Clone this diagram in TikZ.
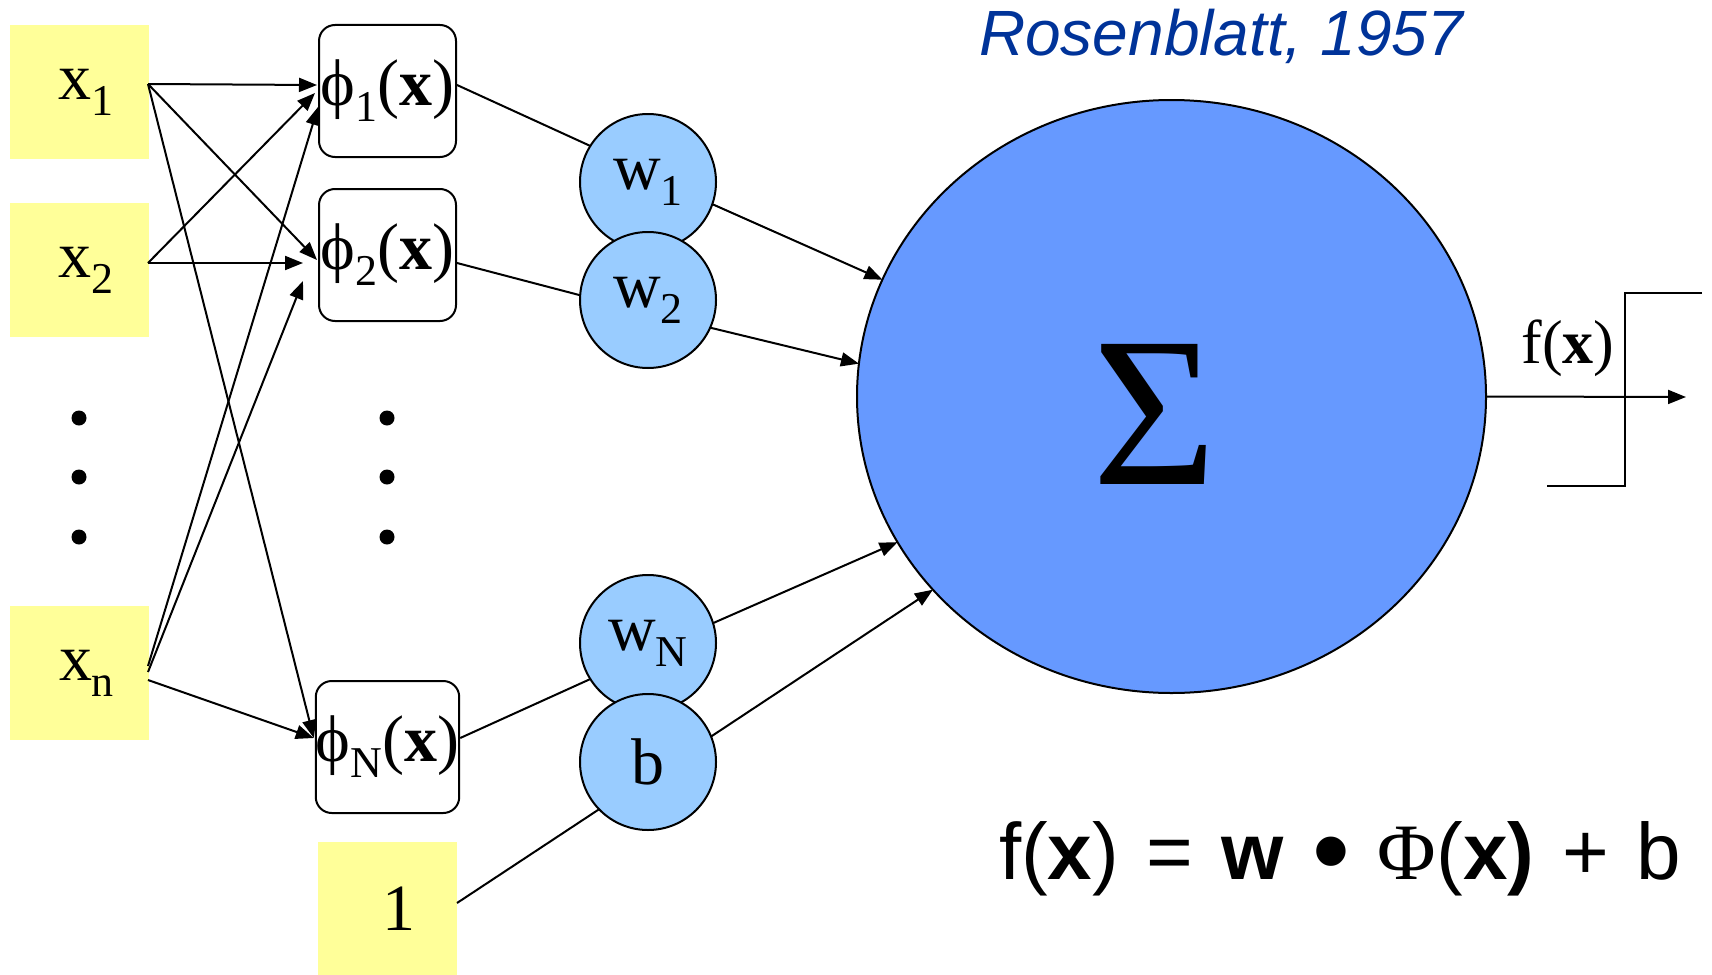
\documentclass[tikz,border=0pt]{standalone}
\usepackage{fontspec}
\setmainfont{Liberation Serif}
\newfontfamily\arialfont{Liberation Sans}
\usetikzlibrary{arrows.meta,shapes.geometric,calc}
\definecolor{inyellow}{RGB}{255,255,153}
\definecolor{wblue}{RGB}{153,204,255}
\definecolor{sigblue}{RGB}{102,153,255}
\definecolor{rosenblue}{RGB}{0,51,153}
\newcommand{\mysub}[1]{\raisebox{-0.24em}{\fontsize{44}{44}\selectfont #1}}
\newcommand{\fsp}{\hspace{28pt}}
\begin{document}
\begin{tikzpicture}[x=1pt,y=-1pt,
  every node/.style={inner sep=0pt, outer sep=0pt},
  inbox/.style={fill=inyellow, minimum width=139pt, minimum height=134pt, font=\fontsize{66}{70}\selectfont},
  phibox/.style={draw, line width=2pt, rounded corners=16pt, minimum width=137pt, minimum height=132pt, font=\fontsize{66}{70}\selectfont},
  wcirc/.style={circle, draw, line width=2pt, fill=wblue, minimum size=136pt, font=\fontsize{66}{70}\selectfont},
  dotnode/.style={circle, fill=black, minimum size=15pt},
  conn/.style={line width=2pt},
  arr/.style={line width=2pt, -{Triangle[length=18pt,width=14pt]}},
]
\useasboundingbox (0,0) rectangle (1712,974);

% input boxes
\node[inbox] (x1) at (79.5,92) {\hspace*{12pt}x\mysub{1}};
\node[inbox] (x2) at (79.5,270) {\hspace*{12pt}x\mysub{2}};
\node[inbox] (xn) at (79.5,673) {\hspace*{14pt}x\mysub{n}};
\node[inbox] (one) at (387.5,909) {\hspace*{22pt}1};

% phi boxes
\node[phibox] (phi1) at (387.5,91) {ϕ\mysub{1}(\textbf{x})};
\node[phibox] (phi2) at (387.5,255) {ϕ\mysub{2}(\textbf{x})};
\node[phibox] (phiN) at (387.5,747) {ϕ\mysub{N}(\textbf{x})};

% dots
\node[dotnode] (d1) at (79,418) {};
\node[dotnode] (d2) at (79,477) {};
\node[dotnode] (d3) at (79,537) {};
\node[dotnode] (e1) at (387,418) {};
\node[dotnode] (e2) at (387,477) {};
\node[dotnode] (e3) at (387,537) {};

% input connectors
\draw[arr] ($(x1.east)+(-1,-8)$) -- ($(phi1.west)+(-2,-6)$);
\draw[arr] ($(x1.east)+(-1,-8)$) -- ($(phi2.west)+(-2,5)$);
\draw[arr] ($(x1.east)+(-1,-8)$) -- ($(phiN.west)+(-2,-9)$);
\draw[arr] ($(x2.east)+(-1,-7)$) -- ($(phi1.west)+(-4,2)$);
\draw[arr] ($(x2.east)+(-1,-7)$) -- ($(phi2.west)+(-16,8)$);
\draw[arr] ($(xn.east)+(-1,-7)$) -- ($(phi1.west)+(-1,16)$);
\draw[arr] ($(xn.east)+(-1,-1)$) -- ($(phi2.west)+(-16,26)$);
\draw[arr] ($(xn.east)+(-1,7)$) -- ($(phiN.west)+(-2,-9)$);

% weight circles
\node[wcirc] (w1) at (648,182) {w\mysub{1}};
\node[wcirc] (w2) at (648,300) {w\mysub{2}};
\node[wcirc] (wN) at (648,643) {w\mysub{N}};
\node[wcirc] (b) at (648,762) {b};

% sum ellipse
\node[ellipse, draw, line width=2pt, fill=sigblue, minimum width=629pt, minimum height=593pt] (sigma) at (1171.5,396.5) {};
\node[font=\fontsize{214}{214}\selectfont] (sig) at (1155,414) {Σ};

% phi -> w
\draw[conn] ($(phi1.east)+(1,-6)$) -- (w1.148);
\draw[conn] ($(phi2.east)+(1,8)$) -- (w2.176);
\draw[conn] ($(phiN.east)+(1,-9)$) -- (wN.212);
\draw[conn] ($(one.east)+(0,-6)$) -- (b.224);

% w -> sigma
\draw[arr] (w1.-19) -- (sigma.158);
\draw[arr] (w2.-24) -- (sigma.174);
\draw[arr] (wN.17) -- (sigma.208);
\draw[arr] (b.22) -- (sigma.219);

% output
\coordinate (outend) at (1686,397);
\draw[arr] (sigma.east) -- (outend);
\draw[conn] (1702,293) -- (1625,293) -- (1625,486) -- (1547,486);
\node[font=\fontsize{62}{62}\selectfont] (fx) at (1568,348) {f(\textbf{x})};

% title and formula
\node[anchor=base, text=rosenblue, font=\arialfont\itshape\fontsize{64}{64}\selectfont] (title) at (1221,56) {Rosenblatt, 1957};
\node[anchor=base west, font=\arialfont\fontsize{80}{80}\selectfont] (formula) at (999,879)
  {f(\textbf{x})\fsp=\fsp\textbf{w}\fsp\raisebox{-0.1em}{\scalebox{1.35}{•}}\fsp{\rmfamily Φ}(\textbf{x}\textbf{)}\fsp+\fsp b};
\end{tikzpicture}
\end{document}
